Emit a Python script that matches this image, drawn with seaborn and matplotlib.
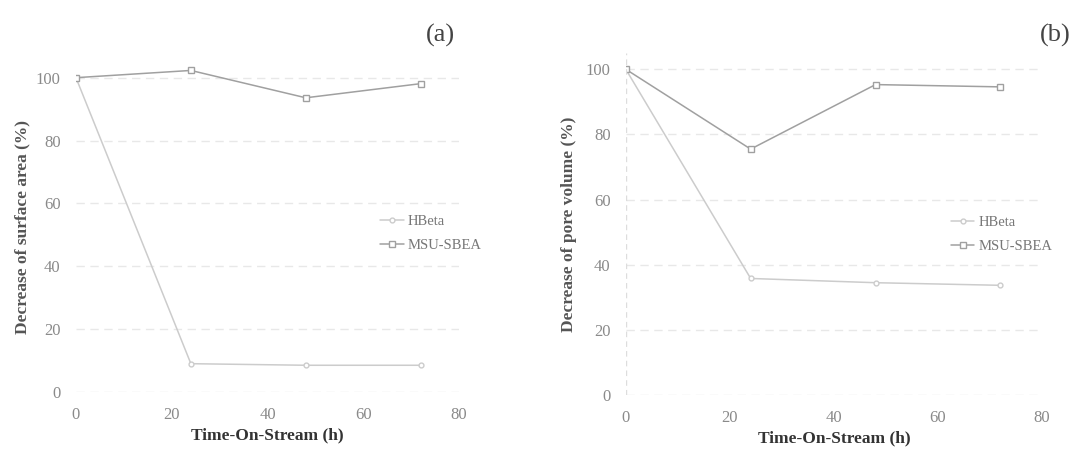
import matplotlib
matplotlib.use("Agg")
import matplotlib.pyplot as plt
import seaborn as sns
import pandas as pd

time_h = [0, 24, 48, 72]
surf_hbeta = [100, 9, 8.5, 8.5]
surf_msu = [100, 102.3, 93.6, 98.1]
pore_hbeta = [100, 35.8, 34.5, 33.7]
pore_msu = [100, 75.5, 95.3, 94.6]
series = ["HBeta", "MSU-SBEA"]
xticks = [0, 20, 40, 60, 80]
yticks = [0, 20, 40, 60, 80, 100]

sns.set_theme(style="white")
plt.rcParams['font.family'] = ['Liberation Serif', 'DejaVu Serif']

fig = plt.figure(figsize=(10.79, 4.49), dpi=100)
axa = fig.add_axes([0.0704, 0.127, 0.355, 0.735])
axb = fig.add_axes([0.580, 0.120, 0.3857, 0.762])

palette = {"HBeta": "#cccccc", "MSU-SBEA": "#a0a0a0"}
markers = {"HBeta": "o", "MSU-SBEA": "s"}

def draw(ax, hb, msu, ylabel, legend_xy, ypad):
    df = pd.DataFrame({
        "t": time_h * 2,
        "v": hb + msu,
        "s": [series[0]] * len(time_h) + [series[1]] * len(time_h),
    })
    sns.lineplot(data=df, x="t", y="v", hue="s", style="s", palette=palette,
                 markers=markers, dashes=False, ax=ax, linewidth=1.1,
                 legend=True)
    for ln in ax.lines:
        c = ln.get_color()
        ln.set_markerfacecolor("white")
        ln.set_markeredgecolor(c)
        ln.set_markeredgewidth(1.0)
        ln.set_markersize(5 if ln.get_marker() == "s" else 3.5)
    ax.set_xlim(0, 80)
    ax.set_ylim(0, 105)
    ax.set_xticks(xticks)
    ax.set_yticks(yticks)
    ax.tick_params(axis="both", length=0, labelsize=12, labelcolor="#8a8a8a", pad=11)
    for sp in ax.spines.values():
        sp.set_visible(False)
    ax.grid(axis="y", color="#e8e8e8", linestyle=(0, (6, 4)), linewidth=1.0)
    ax.set_xlabel("Time-On-Stream (h)", fontsize=12.5, fontweight="bold", color="#333333", labelpad=3)
    ax.set_ylabel(ylabel, fontsize=12.5, fontweight="bold", color="#555555", labelpad=ypad)
    leg = ax.legend(loc="center left", bbox_to_anchor=legend_xy, frameon=False,
                    fontsize=10.5, handlelength=1.6, handletextpad=0.3, labelspacing=0.75)
    for ln in leg.get_lines():
        ln.set_markerfacecolor("white")
        ln.set_markeredgecolor(ln.get_color())
    for t in leg.get_texts():
        t.set_color("#777777")

draw(axa, surf_hbeta, surf_msu, "Decrease of surface area (%)", (0.76, 0.48), 4)
draw(axb, pore_hbeta, pore_msu, "Decrease of pore volume (%)", (0.75, 0.47), 6)
axb.axvline(0, color="#dddddd", linestyle=(0, (4, 3)), linewidth=1.0)

fig.text(0.408, 0.922, "(a)", fontsize=19, color="#444444", ha="center", va="center")
fig.text(0.978, 0.922, "(b)", fontsize=19, color="#444444", ha="center", va="center")

fig.savefig("out.png", dpi=100)
